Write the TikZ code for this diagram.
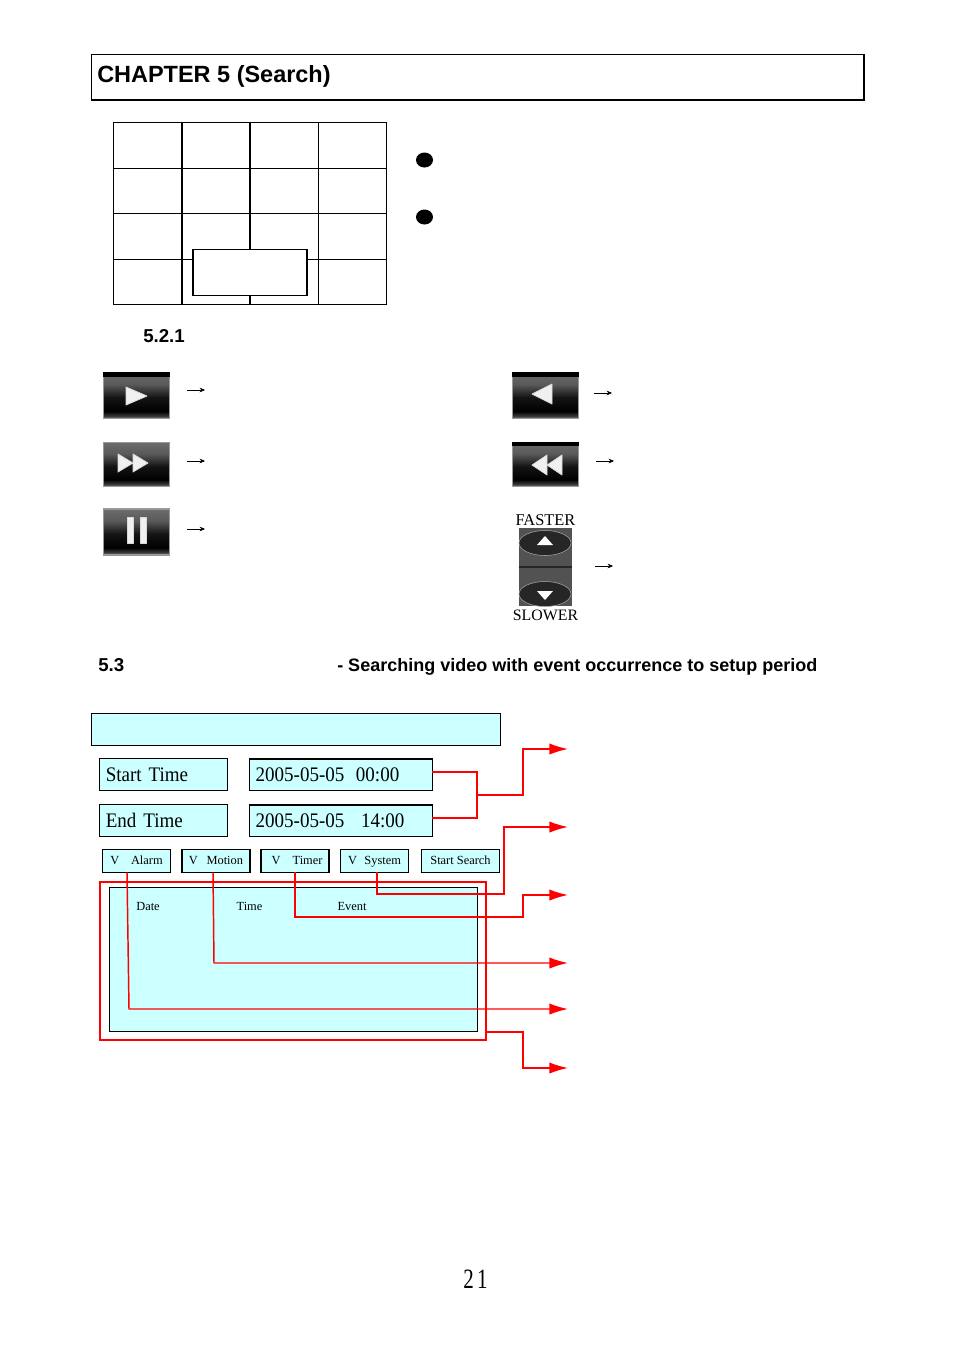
\documentclass[tikz,border=0pt]{standalone}
\usepackage{fontspec}
\setmainfont{Liberation Serif}
\setsansfont{Liberation Sans}
\newfontfamily\narrowserif[FakeStretch=0.92]{Liberation Serif}
\newfontfamily\pagenumfont[FakeStretch=0.75]{Liberation Serif}
\usetikzlibrary{arrows.meta}
\definecolor{panelcyan}{HTML}{CCFFFF}
\pgfdeclareverticalshading{iconshade}{100bp}{color(0bp)=(gray!90); color(25bp)=(gray!90); color(28bp)=(gray!45!black); color(33bp)=(black); color(48bp)=(black!92); color(62bp)=(gray!70!black); color(75bp)=(gray!85!black); color(100bp)=(gray!85!black)}
\tikzset{
	panel/.style={draw=black, fill=panelcyan, line width=0.8pt, inner sep=0pt, outer sep=0pt},
	field/.style={panel, minimum height=23.5pt, font=\narrowserif\fontsize{15.5}{18}\selectfont},
	fieldname/.style={field, minimum width=95.5pt, text width=86.5pt, align=left},
	fieldvalue/.style={field, minimum width=137pt, text width=128pt, align=left, line width=1pt},
	btn/.style={panel, minimum width=51pt, minimum height=17pt, text height=6.5pt, text depth=2pt, font=\fontsize{9.3}{11}\selectfont},
	head/.style={font=\sffamily\bfseries\fontsize{14}{16}\selectfont, inner sep=0pt, anchor=west},
	colname/.style={font=\fontsize{9.3}{11}\selectfont, inner sep=0pt},
	icon/.style={draw=gray!80, line width=0.8pt, shading=iconshade, minimum width=50pt, inner sep=0pt, outer sep=0pt},
	glyph/.style={fill=white!88!gray, draw=white!70!gray, line width=0.6pt, line join=round},
	small/.style={-{Stealth[length=4pt,width=3.5pt]}, line width=0.4pt},
	redline/.style={draw=red, line width=1.1pt},
	redarrow/.style={redline, -{Latex[length=14pt,width=8.5pt]}},
}
\begin{document}
\begin{tikzpicture}[x=0.75pt,y=-0.75pt]
	\useasboundingbox (0,0) rectangle (954,1350);
	% title
	\node[draw, line width=0.7pt, minimum width=579.5pt, minimum height=34.5pt, outer sep=0pt, inner sep=0pt] (title) at (477.5,77) {};
	\draw[line width=1.4pt] (title.north east) -- (title.south east) -- (title.south west);
	\node[head, font=\sffamily\bfseries\fontsize{17.6}{20}\selectfont] (chapter) at (97,76.5) {CHAPTER 5 (Search)};
	% grid
	\draw[line width=0.7pt] (113,122) rectangle (386,304);
	\foreach \y in {168,213,259} \draw[line width=0.7pt] (113,\y) -- (386,\y);
	\foreach \x in {182,250} \draw[line width=1.2pt] (\x,122) -- (\x,304);
	\draw[line width=0.7pt] (318,122) -- (318,304);
	\node[draw, fill=white, line width=0.8pt, minimum width=85.5pt, minimum height=34pt, outer sep=0pt] (popup) at (250,272.5) {};
	\fill (424.5,160) ellipse [x radius=8.5, y radius=7.5];
	\fill (424.5,217) ellipse [x radius=8.5, y radius=7.5];
	\node[head] (sec521) at (143,336.5) {5.2.1};
	% buttons, left side
	\node[icon, minimum height=35pt] (play) at (136.5,395.5) {};
	\fill[black] (103,372) rectangle (170,377);
	\draw[glyph] (126,387) -- (147,396) -- (126,405) -- cycle;
	\node[icon, minimum height=33.5pt] (fwd) at (136.5,464.5) {};
	\draw[glyph] (118,454) -- (133,463) -- (118,472) -- cycle;
	\draw[glyph] (133,454) -- (148,463) -- (133,472) -- cycle;
	\node[icon, minimum height=34.5pt] (pause) at (136.5,532) {};
	\draw[glyph] (127,517) rectangle (133,543);
	\draw[glyph] (140,517) rectangle (146,543);
	% buttons, right side
	\node[icon, minimum height=35pt] (back) at (545.5,395.5) {};
	\fill[black] (512,372) rectangle (579,377);
	\draw[glyph] (532,394) -- (552,384) -- (552,404) -- cycle;
	\node[icon, minimum height=33.5pt] (rew) at (545.5,464.5) {};
	\fill[black] (512,442) rectangle (579,446);
	\draw[glyph] (532,465) -- (547,455) -- (547,475) -- cycle;
	\draw[glyph] (547,465) -- (562,455) -- (562,475) -- cycle;
	\node[inner sep=0pt, font=\fontsize{12.3}{13}\selectfont] (faster) at (545.5,520) {FASTER};
	\node[inner sep=0pt, font=\fontsize{11.9}{13}\selectfont] (slower) at (545.5,615.5) {SLOWER};
	\node[fill=black!68, minimum width=40pt, minimum height=58.5pt, inner sep=0pt, outer sep=0pt] (speed) at (545.5,567) {};
	\draw[black!85, line width=0.8pt] (speed.west) -- (speed.east);
	\draw[fill=black!85, draw=gray!70] (545,543) ellipse [x radius=26, y radius=12.5];
	\draw[fill=black!85, draw=gray!70] (545,594) ellipse [x radius=26, y radius=12.5];
	\fill[white] (537,545) -- (553,545) -- (545,536) -- cycle;
	\fill[white] (537,591) -- (553,591) -- (545,600) -- cycle;
	% small arrows
	\coordinate (a1) at (205,390);
	\coordinate (a2) at (205,461);
	\coordinate (a3) at (205,529);
	\coordinate (a4) at (612,393);
	\coordinate (a5) at (614,461);
	\coordinate (a6) at (613,566);
	\draw[small] (187,390) -- (a1);
	\draw[small] (187,461) -- (a2);
	\draw[small] (187,529) -- (a3);
	\draw[small] (594,393) -- (a4);
	\draw[small] (596,461) -- (a5);
	\draw[small] (595,566) -- (a6);
	% section 5.3
	\node[head] (sec53) at (98,665.5) {5.3};
	\node[head, font=\sffamily\bfseries\fontsize{13.5}{16}\selectfont] (sec53text) at (337,667) {- Searching video with event occurrence to setup period};
	% search panel
	\node[panel, minimum width=306.5pt, minimum height=24pt] (bar) at (295.7,729.5) {};
	\node[fieldname] (startname) at (163.5,774.5) {Start Time};
	\node[fieldname] (endname) at (163.5,820.5) {End Time};
	\node[fieldvalue] (startval) at (341,774.5) {2005-05-05\hspace{8.7pt}00:00};
	\node[fieldvalue] (endval) at (341,820.5) {2005-05-05\hspace{12.5pt}14:00};
	\node[btn] (alarm) at (136.5,861) {V\hspace{0.95em}Alarm\hspace{0.1em}};
	\node[btn] (motion) at (216,861) {V\hspace{0.7em}Motion};
	\node[btn] (timer) at (295,861) {\hspace{3pt}V\hspace{0.98em}Timer};
	\node[btn] (system) at (374.5,861) {V\hspace{0.6em}System};
	\node[btn, minimum width=59pt] (startbtn) at (460.5,861) {Start Search};
	\node[panel, minimum width=276pt, minimum height=108pt, line width=0.7pt] (list) at (293.5,959) {};
	\node[colname] (date) at (148,906.5) {Date};
	\node[colname] (time) at (249.5,906.5) {Time};
	\node[colname] (event) at (352,906.5) {Event};
	\node[draw=red, line width=0.9pt, minimum width=289.5pt, minimum height=118.5pt, inner sep=0pt, outer sep=0pt] (listframe) at (293,961) {};
	% red connectors
	\coordinate (join) at (477,795);
	\coordinate (out1) at (568,749);
	\coordinate (out2) at (568,827);
	\coordinate (out3) at (568,895);
	\coordinate (out4) at (568,963);
	\coordinate (out5) at (568,1009);
	\coordinate (out6) at (568,1068);
	\draw[redline] ([yshift=1.9pt]startval.east) -| (join);
	\draw[redline] ([yshift=1.9pt]endval.east) -| (join);
	\draw[redarrow] (join) -- (523,795) |- (out1);
	\draw[redarrow] (system.south -| 377,0) |- (504,894) |- (out2);
	\draw[redarrow] (timer.south) |- (523,917) |- (out3);
	\draw[redarrow] (motion.south -| 213,0) -- (214,963) -- (out4);
	\draw[redarrow] (alarm.south -| 127,0) -- (129,1009) -- (out5);
	\draw[redarrow] (listframe.east |- 0,1032) -- (523,1032) |- (out6);
	% page number
	\node[inner sep=0pt, font=\pagenumfont\fontsize{21}{24}\selectfont] (pagenum) at (475.5,1279) {2\hspace{0.12em}1};
\end{tikzpicture}
\end{document}
